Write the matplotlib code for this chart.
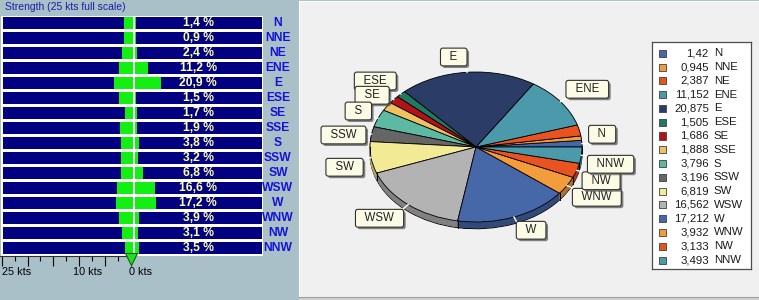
import matplotlib
matplotlib.use("Agg")
import matplotlib.pyplot as plt
import numpy as np
from matplotlib import patheffects as pe
from matplotlib import colors as mcolors

# ---------------- data ----------------
directions = ['N', 'NNE', 'NE', 'ENE', 'E', 'ESE', 'SE', 'SSE',
              'S', 'SSW', 'SW', 'WSW', 'W', 'WNW', 'NW', 'NNW']
frequency_pct = [1.42, 0.945, 2.387, 11.152, 20.875, 1.505, 1.686, 1.888,
                 3.796, 3.196, 6.819, 16.562, 17.212, 3.932, 3.133, 3.493]
strength_kts = [1.8, 1.7, 2.1, 2.7, 3.7, 2.7, 1.5, 2.5,
                2.4, 2.3, 2.3, 3.2, 3.4, 2.7, 2.1, 1.6]
scale_major = [0, 5, 10, 15, 20, 25]
scale_minor = [2.5, 7.5, 12.5, 17.5, 22.5]
scale_labels = ['25 kts', '10 kts', '0 kts']
scale_label_at = [25, 11.3, 0.4]
slice_colors = ['#4667a8', '#f39c3c', '#e8531f', '#4a9aab', '#2b3d66', '#1f7a62',
                '#b3121b', '#f2c15f', '#5cbaa2', '#666666', '#f2ea94', '#b3b3b3',
                '#4667a8', '#f39c3c', '#e8531f', '#4a9aab']
title_text = 'Strength (25 kts full scale)'

# label placement (layout, data units of the pie axes)
label_pos = {'E': (-0.21, 1.20), 'ESE': (-0.95, 0.88), 'SE': (-0.98, 0.69),
             'S': (-1.11, 0.48), 'SSW': (-1.25, 0.16), 'SW': (-1.24, -0.27),
             'WSW': (-0.91, -0.95), 'W': (0.52, -1.11), 'WNW': (1.14, -0.67),
             'NW': (1.18, -0.45), 'NNW': (1.27, -0.23), 'N': (1.19, 0.17),
             'ENE': (1.05, 0.77)}

W, H = 759, 300
fig = plt.figure(figsize=(W / 100, H / 100), dpi=100)
fig.patch.set_facecolor('#a9c0c8')
FONT = 'Liberation Sans'


def px_axes(x0, y0, x1, y1, **kw):
    return fig.add_axes([x0 / W, 1 - y1 / H, (x1 - x0) / W, (y1 - y0) / H], **kw)


def clean(ax):
    ax.set_xticks([])
    ax.set_yticks([])
    for s in ax.spines.values():
        s.set_visible(False)


n = len(directions)
rows = np.arange(n)
navy = '#000080'
green = '#12f012'

# ---------------- left panel ----------------
fig.text(5 / W, 1 - 7.5 / H, title_text, color='#1c1caa', fontsize=7.5,
         family=FONT, va='center', ha='left')

# strength bars (left)
axL = px_axes(0.5, 15.8, 134, 255.8)
axL.set_facecolor('white')
clean(axL)
axL.barh(rows, [25.5] * n, height=0.8, color=navy, left=0)
axL.barh(rows, strength_kts, height=0.8, color=green, left=0)
axL.set_xlim((133 - 0.5) / 5.115, (133 - 134) / 5.115)
axL.set_ylim(n - 0.5, -0.5)

# frequency bars (right)
axR = px_axes(134, 15.8, 263, 255.8)
axR.set_facecolor('white')
clean(axR)
axR.barh(rows, [101.6] * n, height=0.8, color=navy, left=0)
axR.barh(rows, frequency_pct, height=0.8, color=green, left=0)
axR.set_xlim(-0.4, 102.8)
axR.set_ylim(n - 0.5, -0.5)
for i, v in enumerate(frequency_pct):
    axR.text(51, i, f"{v:.1f}".replace('.', ',') + ' %', color='#ffffb4',
             fontsize=8.7, fontweight='bold', family=FONT, ha='center', va='center')
    axR.text(114.8, i, directions[i], color='#1414d8', fontsize=8.7,
             fontweight='bold', family=FONT, ha='center', va='center', clip_on=False)

# strength scale
axS = px_axes(0, 255.5, 134, 266)
axS.patch.set_alpha(0)
for k, s in axS.spines.items():
    s.set_visible(k == 'top')
axS.spines['top'].set_color('#303030')
axS.spines['top'].set_linewidth(0.8)
axS.set_xlim(131 / 5.172, (131 - 134) / 5.172)
axS.set_ylim(0, 1)
axS.set_yticks([])
axS.xaxis.set_ticks_position('top')
axS.set_xticks(scale_major)
axS.set_xticks(scale_minor, minor=True)
axS.tick_params(axis='x', which='major', direction='in', length=7, width=0.8,
                color='black', labeltop=False, labelbottom=False)
axS.tick_params(axis='x', which='minor', direction='in', length=3.8, width=0.8,
                color='black')
for lab, xv in zip(scale_labels, scale_label_at):
    axS.text(xv, -0.6, lab, fontsize=7.8, family=FONT, ha='left', va='center',
             color='black', clip_on=False)
axS.plot([0], [0.68], marker='v', ms=8.6, color='#22e022', mec='#106010',
         mew=0.8, clip_on=False, zorder=5)

# ---------------- right panel ----------------
axBand = px_axes(299, 297, 759, 300)
axBand.set_facecolor('#cfcfcf')
clean(axBand)

axBG = px_axes(299, 1, 759, 297)
axBG.set_facecolor('#f0f0f0')
clean(axBG)
for k in ('left', 'top'):
    axBG.spines[k].set_visible(True)
    axBG.spines[k].set_color('white')
axBG.spines['bottom'].set_visible(True)
axBG.spines['bottom'].set_color('#a0a0a0')

axP = px_axes(300, 1, 650, 297)
axP.patch.set_alpha(0)


def darken(c, f=0.72):
    r, g, b = mcolors.to_rgb(c)
    return (r * f, g * f, b * f)


dark = [darken(c) for c in slice_colors]
depth = 0.09
layers = np.linspace(-depth, 0, 10)[:-1]
for j, k in enumerate(layers):
    wedges, _ = axP.pie(frequency_pct, colors=dark, startangle=0,
                        counterclock=True, center=(0, k), radius=1)
    for w, c in zip(wedges, dark):
        if j == 0:
            w.set_edgecolor('black')
            w.set_linewidth(0.7)
        else:
            w.set_edgecolor(c)
            w.set_linewidth(0.5)

vals = np.array(frequency_pct)
cum = np.cumsum(vals) / vals.sum() * 360
for a in np.concatenate([[0], cum]):
    if 180 < a < 360:
        t = np.radians(a)
        axP.plot([np.cos(t)] * 2, [np.sin(t), np.sin(t) - depth], color='black', lw=0.7)
axP.plot([-1, -1], [0, -depth], color='black', lw=0.7)
axP.plot([1, 1], [0, -depth], color='black', lw=0.7)

axP.pie(frequency_pct, colors=slice_colors, startangle=0, counterclock=True,
        wedgeprops=dict(edgecolor='black', linewidth=0.6))

mids = cum - vals / vals.sum() * 180
for i, name in enumerate(directions):
    if name not in label_pos:
        continue
    t = np.radians(mids[i])
    cx, cy = np.cos(t), np.sin(t)
    lx, ly = label_pos[name]
    axP.plot([cx, cx * 1.13], [cy, cy * 1.13], color='white', lw=1, zorder=3)
    txt = axP.text(lx, ly, '  ' + name + '  ', fontsize=8.3, family=FONT,
                   ha='center', va='center', color='#202020', zorder=10 + i,
                   bbox=dict(boxstyle='round,pad=0.25,rounding_size=0.2',
                             fc='#fbfbe6', ec='#303030', lw=0.8))
    txt.get_bbox_patch().set_path_effects([
        pe.SimplePatchShadow(offset=(1.5, -1.5), shadow_rgbFace='#505050', alpha=0.7),
        pe.Normal()])

axP.set_aspect('auto')
axP.set_xlim((300 - 476) / 106, (650 - 476) / 106)
axP.set_ylim((147 - 297) / 75, (147 - 1) / 75)
axP.set_axis_off()

# legend
axLg = px_axes(651.7, 41.7, 751, 269.3)
axLg.set_facecolor('white')
axLg.set_xticks([])
axLg.set_yticks([])
for s in axLg.spines.values():
    s.set_color('#4d4d4d')
    s.set_linewidth(0.9)
axLg.set_xlim(0, 1)
axLg.set_ylim(15.67, -0.84)
axLg.scatter([0.109] * n, rows, marker='s', s=26, c=slice_colors,
             edgecolors='#404040', linewidths=0.6)
for i, (name, v) in enumerate(zip(directions, frequency_pct)):
    axLg.text(0.575, i, f"{v:g}".replace('.', ','), fontsize=8.2, family=FONT,
              ha='right', va='center', color='#1a1a1a')
    axLg.text(0.625, i, name, fontsize=8.2, family=FONT,
              ha='left', va='center', color='#1a1a1a')

fig.savefig('out.png', dpi=100, facecolor=fig.get_facecolor())
